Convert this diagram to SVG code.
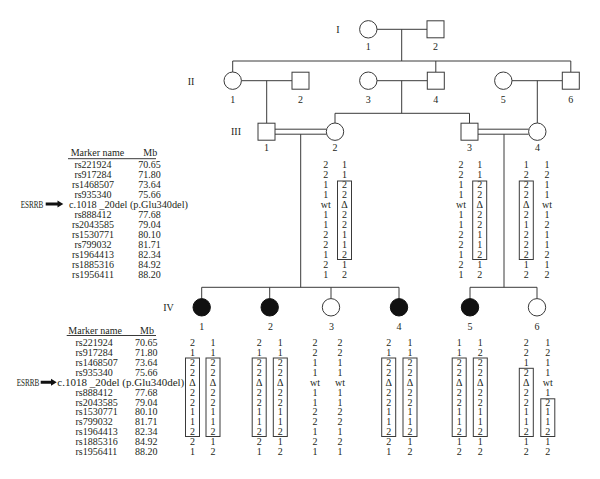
<svg xmlns="http://www.w3.org/2000/svg" width="600" height="479" viewBox="0 0 600 479">
<style>
.t{font-family:"Liberation Serif","Times New Roman",serif;font-size:10px;fill:#231f20}
.c{text-anchor:middle}
.sym{fill:#fff;stroke:#3a3a3a;stroke-width:1}
.aff{fill:#111;stroke:#111;stroke-width:1}
.ln{stroke:#3a3a3a;stroke-width:1;fill:none}
.box{fill:none;stroke:#3a3a3a;stroke-width:1}
</style>
<rect width="600" height="479" fill="#fff"/>
<g id="gen-labels" class="t c">
<text x="338" y="32.5">I</text>
<text x="191" y="84.5">II</text>
<text x="236" y="135">III</text>
<text x="168.5" y="310.5">IV</text>
</g>
<g id="connectors" class="ln">
<path d="M377 29.3H427M401.7 29.3V61M232.7 61H570.8M232.7 61V72M435.8 61V72.2M570.8 61V72.2"/>
<path d="M241.4 80.7H292M266.7 80.7V123.2"/>
<path d="M377 80.7H427.3M401.7 80.7V113.3M335 113.3H469.5M335 113.3V123M469.5 113.3V123.2"/>
<path d="M512 80.7H562.3M537.3 80.7V123"/>
<path d="M275 129.2H326.3M275 134.2H326.3M300.7 134.2V287.3"/>
<path d="M478 129.2H528.6M478 134.2H528.6M504 134.2V287.3"/>
<path d="M201.7 287.3H399M201.7 287.3V298.6M269.7 287.3V298.6M331 287.3V298.6M399 287.3V298.6"/>
<path d="M470 287.3H537M470 287.3V298.6M537 287.3V298.6"/>
</g>
<g id="I-1"><circle class="sym" cx="368.3" cy="29.3" r="8.7"/><text class="t c" x="368.3" y="49.5">1</text></g>
<g id="I-2"><rect class="sym" x="427" y="20.8" width="17" height="17"/><text class="t c" x="435.5" y="49.5">2</text></g>
<g id="II-1"><circle class="sym" cx="232.7" cy="80.7" r="8.7"/><text class="t c" x="232.7" y="102.5">1</text></g>
<g id="II-2"><rect class="sym" x="292" y="72.2" width="17" height="17"/><text class="t c" x="300.5" y="102.5">2</text></g>
<g id="II-3"><circle class="sym" cx="368.3" cy="80.7" r="8.7"/><text class="t c" x="368.3" y="102.5">3</text></g>
<g id="II-4"><rect class="sym" x="427.3" y="72.2" width="17" height="17"/><text class="t c" x="435.8" y="102.5">4</text></g>
<g id="II-5"><circle class="sym" cx="503.3" cy="80.7" r="8.7"/><text class="t c" x="503.3" y="102.5">5</text></g>
<g id="II-6"><rect class="sym" x="562.3" y="72.2" width="17" height="17"/><text class="t c" x="570.8" y="102.5">6</text></g>
<g id="III-1"><rect class="sym" x="258" y="123.2" width="17" height="17"/><text class="t c" x="266.5" y="151">1</text></g>
<g id="III-2"><circle class="sym" cx="335" cy="131.7" r="8.7"/><text class="t c" x="335" y="151">2</text>
<text class="t c"><tspan x="325.7" y="167.5">2</tspan><tspan x="325.7" y="177.5">2</tspan><tspan x="325.7" y="187.5">1</tspan><tspan x="325.7" y="197.5">1</tspan><tspan x="325.7" y="207.5">wt</tspan><tspan x="325.7" y="217.5">1</tspan><tspan x="325.7" y="227.5">1</tspan><tspan x="325.7" y="237.5">2</tspan><tspan x="325.7" y="247.5">2</tspan><tspan x="325.7" y="257.5">1</tspan><tspan x="325.7" y="267.5">2</tspan><tspan x="325.7" y="277.5">1</tspan></text>
<text class="t c"><tspan x="344.5" y="167.5">1</tspan><tspan x="344.5" y="177.5">1</tspan><tspan x="344.5" y="187.5">2</tspan><tspan x="344.5" y="197.5">2</tspan><tspan x="344.5" y="207.5">Δ</tspan><tspan x="344.5" y="217.5">2</tspan><tspan x="344.5" y="227.5">2</tspan><tspan x="344.5" y="237.5">1</tspan><tspan x="344.5" y="247.5">1</tspan><tspan x="344.5" y="257.5">2</tspan><tspan x="344.5" y="267.5">1</tspan><tspan x="344.5" y="277.5">2</tspan></text>
<rect class="box" x="337.5" y="181" width="14" height="78.5"/></g>
<g id="III-3"><rect class="sym" x="461" y="123.2" width="17" height="17"/><text class="t c" x="469.5" y="151">3</text>
<text class="t c"><tspan x="461" y="167.5">2</tspan><tspan x="461" y="177.5">2</tspan><tspan x="461" y="187.5">1</tspan><tspan x="461" y="197.5">1</tspan><tspan x="461" y="207.5">wt</tspan><tspan x="461" y="217.5">1</tspan><tspan x="461" y="227.5">1</tspan><tspan x="461" y="237.5">2</tspan><tspan x="461" y="247.5">2</tspan><tspan x="461" y="257.5">1</tspan><tspan x="461" y="267.5">2</tspan><tspan x="461" y="277.5">1</tspan></text>
<text class="t c"><tspan x="479.7" y="167.5">1</tspan><tspan x="479.7" y="177.5">1</tspan><tspan x="479.7" y="187.5">2</tspan><tspan x="479.7" y="197.5">2</tspan><tspan x="479.7" y="207.5">Δ</tspan><tspan x="479.7" y="217.5">2</tspan><tspan x="479.7" y="227.5">2</tspan><tspan x="479.7" y="237.5">1</tspan><tspan x="479.7" y="247.5">1</tspan><tspan x="479.7" y="257.5">2</tspan><tspan x="479.7" y="267.5">1</tspan><tspan x="479.7" y="277.5">2</tspan></text>
<rect class="box" x="472.7" y="181" width="14" height="78.5"/></g>
<g id="III-4"><circle class="sym" cx="537.3" cy="131.7" r="8.7"/><text class="t c" x="537.5" y="151">4</text>
<text class="t c"><tspan x="526.3" y="167.5">1</tspan><tspan x="526.3" y="177.5">2</tspan><tspan x="526.3" y="187.5">2</tspan><tspan x="526.3" y="197.5">2</tspan><tspan x="526.3" y="207.5">Δ</tspan><tspan x="526.3" y="217.5">2</tspan><tspan x="526.3" y="227.5">1</tspan><tspan x="526.3" y="237.5">2</tspan><tspan x="526.3" y="247.5">2</tspan><tspan x="526.3" y="257.5">2</tspan><tspan x="526.3" y="267.5">1</tspan><tspan x="526.3" y="277.5">2</tspan></text>
<text class="t c"><tspan x="547" y="167.5">1</tspan><tspan x="547" y="177.5">2</tspan><tspan x="547" y="187.5">1</tspan><tspan x="547" y="197.5">1</tspan><tspan x="547" y="207.5">wt</tspan><tspan x="547" y="217.5">1</tspan><tspan x="547" y="227.5">2</tspan><tspan x="547" y="237.5">1</tspan><tspan x="547" y="247.5">1</tspan><tspan x="547" y="257.5">2</tspan><tspan x="547" y="267.5">1</tspan><tspan x="547" y="277.5">2</tspan></text>
<rect class="box" x="519.3" y="181" width="14" height="78.5"/></g>
<g id="table-top" class="t">
<text x="70.7" y="156">Marker name</text><text x="143.3" y="156">Mb</text>
<path class="ln" d="M68 158.7H156"/>
<text class="c"><tspan x="93" y="167.5">rs221924</tspan><tspan x="93" y="177.5">rs917284</tspan><tspan x="93" y="187.5">rs1468507</tspan><tspan x="93" y="197.5">rs935340</tspan><tspan x="93" y="217.5">rs888412</tspan><tspan x="93" y="227.5">rs2043585</tspan><tspan x="93" y="237.5">rs1530771</tspan><tspan x="93" y="247.5">rs799032</tspan><tspan x="93" y="257.5">rs1964413</tspan><tspan x="93" y="267.5">rs1885316</tspan><tspan x="93" y="277.5">rs1956411</tspan></text>
<text><tspan x="138.3" y="167.5">70.65</tspan><tspan x="138.3" y="177.5">71.80</tspan><tspan x="138.3" y="187.5">73.64</tspan><tspan x="138.3" y="197.5">75.66</tspan><tspan x="138.3" y="217.5">77.68</tspan><tspan x="138.3" y="227.5">79.04</tspan><tspan x="138.3" y="237.5">80.10</tspan><tspan x="138.3" y="247.5">81.71</tspan><tspan x="138.3" y="257.5">82.34</tspan><tspan x="138.3" y="267.5">84.92</tspan><tspan x="138.3" y="277.5">88.20</tspan></text>
<text x="69" y="207.5" textLength="119" lengthAdjust="spacingAndGlyphs">c.1018 _20del (p.Glu340del)</text>
<text x="20.7" y="207.5" textLength="22.7" lengthAdjust="spacingAndGlyphs">ESRRB</text>
<path d="M45.7 202.5H57.5V200.5L63.3 204L57.5 207.5V205.5H45.7Z" fill="#111"/>
</g>
<g id="IV-1"><circle class="aff" cx="201.7" cy="307.3" r="8.7"/><text class="t c" x="201.7" y="330">1</text>
<text class="t c"><tspan x="192.5" y="346.2">2</tspan><tspan x="192.5" y="356.1">1</tspan><tspan x="192.5" y="366">2</tspan><tspan x="192.5" y="375.8">2</tspan><tspan x="192.5" y="385.7">Δ</tspan><tspan x="192.5" y="395.6">2</tspan><tspan x="192.5" y="405.5">2</tspan><tspan x="192.5" y="415.4">1</tspan><tspan x="192.5" y="425.2">1</tspan><tspan x="192.5" y="435.1">2</tspan><tspan x="192.5" y="445">2</tspan><tspan x="192.5" y="454.9">1</tspan></text>
<text class="t c"><tspan x="213" y="346.2">1</tspan><tspan x="213" y="356.1">1</tspan><tspan x="213" y="366">2</tspan><tspan x="213" y="375.8">2</tspan><tspan x="213" y="385.7">Δ</tspan><tspan x="213" y="395.6">2</tspan><tspan x="213" y="405.5">2</tspan><tspan x="213" y="415.4">1</tspan><tspan x="213" y="425.2">1</tspan><tspan x="213" y="435.1">2</tspan><tspan x="213" y="445">1</tspan><tspan x="213" y="454.9">2</tspan></text>
<rect class="box" x="185.5" y="358" width="14" height="78.5"/><rect class="box" x="206" y="358" width="14" height="78.5"/></g>
<g id="IV-2"><circle class="aff" cx="269.7" cy="307.3" r="8.7"/><text class="t c" x="270.5" y="330">2</text>
<text class="t c"><tspan x="259.2" y="346.2">2</tspan><tspan x="259.2" y="356.1">1</tspan><tspan x="259.2" y="366">2</tspan><tspan x="259.2" y="375.8">2</tspan><tspan x="259.2" y="385.7">Δ</tspan><tspan x="259.2" y="395.6">2</tspan><tspan x="259.2" y="405.5">2</tspan><tspan x="259.2" y="415.4">1</tspan><tspan x="259.2" y="425.2">1</tspan><tspan x="259.2" y="435.1">2</tspan><tspan x="259.2" y="445">2</tspan><tspan x="259.2" y="454.9">1</tspan></text>
<text class="t c"><tspan x="280.3" y="346.2">1</tspan><tspan x="280.3" y="356.1">1</tspan><tspan x="280.3" y="366">2</tspan><tspan x="280.3" y="375.8">2</tspan><tspan x="280.3" y="385.7">Δ</tspan><tspan x="280.3" y="395.6">2</tspan><tspan x="280.3" y="405.5">2</tspan><tspan x="280.3" y="415.4">1</tspan><tspan x="280.3" y="425.2">1</tspan><tspan x="280.3" y="435.1">2</tspan><tspan x="280.3" y="445">1</tspan><tspan x="280.3" y="454.9">2</tspan></text>
<rect class="box" x="252.2" y="358" width="14" height="78.5"/><rect class="box" x="273.3" y="358" width="14" height="78.5"/></g>
<g id="IV-3"><circle class="sym" cx="331" cy="307.3" r="8.7"/><text class="t c" x="331.5" y="330">3</text>
<text class="t c"><tspan x="315" y="346.2">2</tspan><tspan x="315" y="356.1">2</tspan><tspan x="315" y="366">1</tspan><tspan x="315" y="375.8">1</tspan><tspan x="315" y="385.7">wt</tspan><tspan x="315" y="395.6">1</tspan><tspan x="315" y="405.5">1</tspan><tspan x="315" y="415.4">2</tspan><tspan x="315" y="425.2">2</tspan><tspan x="315" y="435.1">1</tspan><tspan x="315" y="445">2</tspan><tspan x="315" y="454.9">1</tspan></text>
<text class="t c"><tspan x="340" y="346.2">2</tspan><tspan x="340" y="356.1">2</tspan><tspan x="340" y="366">1</tspan><tspan x="340" y="375.8">1</tspan><tspan x="340" y="385.7">wt</tspan><tspan x="340" y="395.6">1</tspan><tspan x="340" y="405.5">1</tspan><tspan x="340" y="415.4">2</tspan><tspan x="340" y="425.2">2</tspan><tspan x="340" y="435.1">1</tspan><tspan x="340" y="445">2</tspan><tspan x="340" y="454.9">1</tspan></text></g>
<g id="IV-4"><circle class="aff" cx="399" cy="307.3" r="8.7"/><text class="t c" x="399" y="330">4</text>
<text class="t c"><tspan x="388.7" y="346.2">2</tspan><tspan x="388.7" y="356.1">1</tspan><tspan x="388.7" y="366">2</tspan><tspan x="388.7" y="375.8">2</tspan><tspan x="388.7" y="385.7">Δ</tspan><tspan x="388.7" y="395.6">2</tspan><tspan x="388.7" y="405.5">2</tspan><tspan x="388.7" y="415.4">1</tspan><tspan x="388.7" y="425.2">1</tspan><tspan x="388.7" y="435.1">2</tspan><tspan x="388.7" y="445">2</tspan><tspan x="388.7" y="454.9">1</tspan></text>
<text class="t c"><tspan x="410" y="346.2">1</tspan><tspan x="410" y="356.1">1</tspan><tspan x="410" y="366">2</tspan><tspan x="410" y="375.8">2</tspan><tspan x="410" y="385.7">Δ</tspan><tspan x="410" y="395.6">2</tspan><tspan x="410" y="405.5">2</tspan><tspan x="410" y="415.4">1</tspan><tspan x="410" y="425.2">1</tspan><tspan x="410" y="435.1">2</tspan><tspan x="410" y="445">1</tspan><tspan x="410" y="454.9">2</tspan></text>
<rect class="box" x="381.7" y="358" width="14" height="78.5"/><rect class="box" x="403" y="358" width="14" height="78.5"/></g>
<g id="IV-5"><circle class="aff" cx="470" cy="307.3" r="8.7"/><text class="t c" x="470" y="330">5</text>
<text class="t c"><tspan x="459.2" y="346.2">1</tspan><tspan x="459.2" y="356.1">1</tspan><tspan x="459.2" y="366">2</tspan><tspan x="459.2" y="375.8">2</tspan><tspan x="459.2" y="385.7">Δ</tspan><tspan x="459.2" y="395.6">2</tspan><tspan x="459.2" y="405.5">2</tspan><tspan x="459.2" y="415.4">1</tspan><tspan x="459.2" y="425.2">1</tspan><tspan x="459.2" y="435.1">2</tspan><tspan x="459.2" y="445">1</tspan><tspan x="459.2" y="454.9">2</tspan></text>
<text class="t c"><tspan x="480.3" y="346.2">1</tspan><tspan x="480.3" y="356.1">2</tspan><tspan x="480.3" y="366">2</tspan><tspan x="480.3" y="375.8">2</tspan><tspan x="480.3" y="385.7">Δ</tspan><tspan x="480.3" y="395.6">2</tspan><tspan x="480.3" y="405.5">2</tspan><tspan x="480.3" y="415.4">1</tspan><tspan x="480.3" y="425.2">1</tspan><tspan x="480.3" y="435.1">2</tspan><tspan x="480.3" y="445">1</tspan><tspan x="480.3" y="454.9">2</tspan></text>
<rect class="box" x="452.2" y="358" width="14" height="78.5"/><rect class="box" x="473.3" y="358" width="14" height="78.5"/></g>
<g id="IV-6"><circle class="sym" cx="537" cy="307.3" r="8.7"/><text class="t c" x="537" y="330">6</text>
<text class="t c"><tspan x="526.3" y="346.2">2</tspan><tspan x="526.3" y="356.1">2</tspan><tspan x="526.3" y="366">1</tspan><tspan x="526.3" y="375.8">2</tspan><tspan x="526.3" y="385.7">Δ</tspan><tspan x="526.3" y="395.6">2</tspan><tspan x="526.3" y="405.5">2</tspan><tspan x="526.3" y="415.4">1</tspan><tspan x="526.3" y="425.2">1</tspan><tspan x="526.3" y="435.1">2</tspan><tspan x="526.3" y="445">1</tspan><tspan x="526.3" y="454.9">2</tspan></text>
<text class="t c"><tspan x="547.8" y="346.2">1</tspan><tspan x="547.8" y="356.1">2</tspan><tspan x="547.8" y="366">1</tspan><tspan x="547.8" y="375.8">1</tspan><tspan x="547.8" y="385.7">wt</tspan><tspan x="547.8" y="395.6">1</tspan><tspan x="547.8" y="405.5">2</tspan><tspan x="547.8" y="415.4">1</tspan><tspan x="547.8" y="425.2">1</tspan><tspan x="547.8" y="435.1">2</tspan><tspan x="547.8" y="445">1</tspan><tspan x="547.8" y="454.9">2</tspan></text>
<rect class="box" x="519.3" y="368.3" width="14" height="68.2"/><rect class="box" x="540.8" y="398.8" width="14" height="37.7"/></g>
<g id="table-bottom" class="t">
<text x="68.3" y="333.5">Marker name</text><text x="140" y="333.5">Mb</text>
<path class="ln" d="M66.7 335.5H156"/>
<text><tspan x="75.5" y="346.2">rs221924</tspan><tspan x="75.5" y="356.1">rs917284</tspan><tspan x="75.5" y="366">rs1468507</tspan><tspan x="75.5" y="375.8">rs935340</tspan><tspan x="75.5" y="395.6">rs888412</tspan><tspan x="75.5" y="405.5">rs2043585</tspan><tspan x="75.5" y="415.4">rs1530771</tspan><tspan x="75.5" y="425.2">rs799032</tspan><tspan x="75.5" y="435.1">rs1964413</tspan><tspan x="75.5" y="445">rs1885316</tspan><tspan x="75.5" y="454.9">rs1956411</tspan></text>
<text><tspan x="135" y="346.2">70.65</tspan><tspan x="135" y="356.1">71.80</tspan><tspan x="135" y="366">73.64</tspan><tspan x="135" y="375.8">75.66</tspan><tspan x="135" y="395.6">77.68</tspan><tspan x="135" y="405.5">79.04</tspan><tspan x="135" y="415.4">80.10</tspan><tspan x="135" y="425.2">81.71</tspan><tspan x="135" y="435.1">82.34</tspan><tspan x="135" y="445">84.92</tspan><tspan x="135" y="454.9">88.20</tspan></text>
<text x="57.3" y="385.7" textLength="127" lengthAdjust="spacingAndGlyphs">c.1018 _20del (p.Glu340del)</text>
<text x="16.7" y="385.7" textLength="22.7" lengthAdjust="spacingAndGlyphs">ESRRB</text>
<path d="M40.7 380.8H51V378.8L56.7 382.3L51 385.8V383.8H40.7Z" fill="#111"/>
</g>
</svg>
